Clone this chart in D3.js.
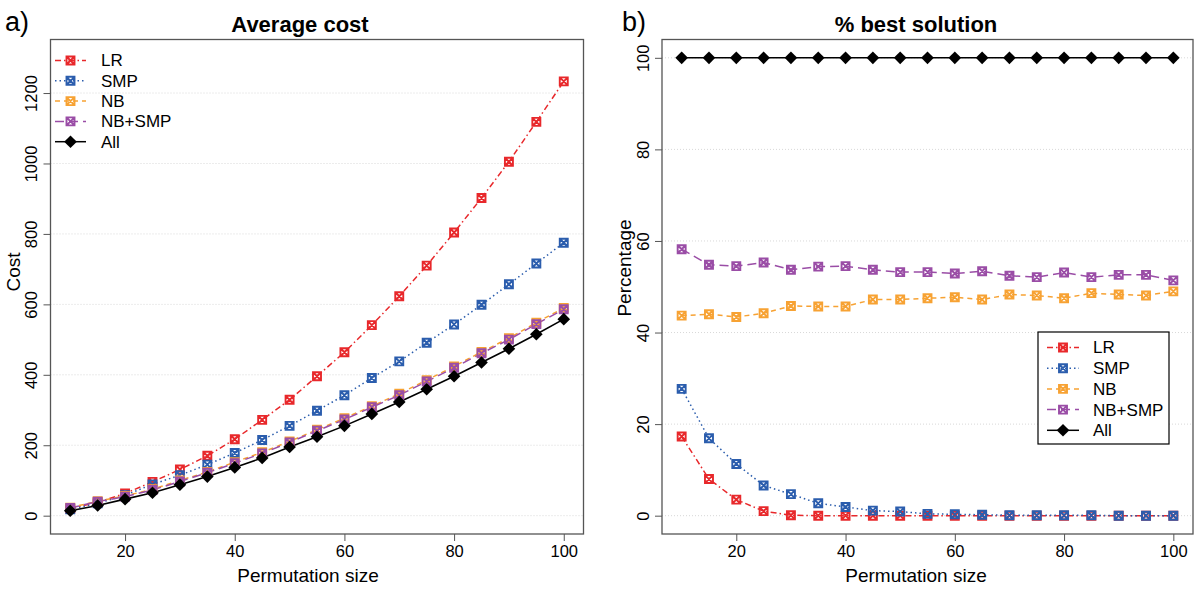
<!DOCTYPE html>
<html><head><meta charset="utf-8">
<script src="https://cdn.jsdelivr.net/npm/d3@7"></script>
<style>body{margin:0;background:#fff;} svg{display:block;font-family:"Liberation Sans",Arial,Helvetica,sans-serif;}</style>
</head><body><svg id="c" width="1200" height="595"></svg>
<script>
const sizes = [10,15,20,25,30,35,40,45,50,55,60,65,70,75,80,85,90,95,100];
const seriesNames = ["LR","SMP","NB","NB+SMP","All"];
// Panel a: average cost
const costLR    = [20,38,63,96,131,170,217,272,329,396,464,541,623,710,804,902,1005,1118,1233];
const costSMP   = [18,35,58,89,115,145,178,215,255,298,342,391,438,491,543,599,657,716,775];
const costNB    = [23,41,56,75,100,124,152,180,211,244,277,311,346,385,424,465,504,548,590];
const costNBSMP = [22,40,54,73,97,122,149,177,208,241,273,308,342,381,420,461,500,544,586];
const costAll   = [14,29,47,65,88,111,137,164,195,224,255,289,323,359,396,435,474,515,558];
// Panel b: % best solution
const pctLR     = [17.3,8.0,3.5,1.0,0.1,0,0,0,0,0,0,0,0,0,0,0,0,0,0];
const pctSMP    = [27.7,16.9,11.3,6.6,4.7,2.7,1.9,1.1,0.9,0.4,0.3,0.2,0.1,0.1,0.1,0.1,0,0,0];
const pctNB     = [43.7,44.0,43.4,44.2,45.8,45.7,45.7,47.2,47.2,47.5,47.7,47.2,48.3,48.1,47.5,48.6,48.3,48.1,49.0];
const pctNBSMP  = [58.2,54.8,54.5,55.3,53.7,54.4,54.5,53.7,53.2,53.2,52.9,53.4,52.4,52.1,53.1,52.1,52.6,52.6,51.4];
const pctAll    = [100,100,100,100,100,100,100,100,100,100,100,100,100,100,100,100,100,100,100];
const xTicks = [20,40,60,80,100];
const costTicks = [0,200,400,600,800,1000,1200];
const pctTicks = [0,20,40,60,80,100];

const colors = {"LR":"#e8282b","SMP":"#2b5dad","NB":"#f7a233","NB+SMP":"#9a4da6","All":"#000"};
const dashes = {"LR":"6,3,1.5,3","SMP":"1.5,3","NB":"5,4","NB+SMP":"9,5","All":null};

const svg = d3.select("#c");

function marker(g, name, x, y){
  if(name==="All"){
    g.append("path").attr("d", d3.symbol(d3.symbolSquare, 80)())
     .attr("transform",`translate(${x},${y}) rotate(45)`).attr("fill","#000");
  } else {
    const s=4, c=colors[name];
    g.append("path").attr("d",`M${x-s},${y-s}h${2*s}v${2*s}h${-2*s}Z M${x-s},${y-s}L${x+s},${y+s} M${x+s},${y-s}L${x-s},${y+s}`)
     .attr("fill","none").attr("stroke",c).attr("stroke-width",1.9);
  }
}

function panel(opt){
  const {x0,x1,y0,y1,ydom,yticks,data,title,titleX,tag,tagX,ylab,ylabX,labY,xlabX,legend} = opt;
  const x = d3.scaleLinear().domain([6.4,103.6]).range([x0,x1]);
  const y = d3.scaleLinear().domain(ydom).range([y1,y0]);
  const g = svg.append("g");
  // grid
  g.selectAll(".grid").data(yticks).join("line")
    .attr("x1",x0).attr("x2",x1).attr("y1",d=>y(d)).attr("y2",d=>y(d))
    .attr("stroke","#d8d8d8").attr("stroke-width",1).attr("stroke-dasharray","1,2");
  // axes
  const xa = g.append("g").attr("transform",`translate(0,${y1})`)
    .call(d3.axisBottom(x).tickValues(xTicks).tickSize(7).tickPadding(4).tickFormat(d3.format("d")));
  xa.select(".domain").remove();
  xa.selectAll("line").attr("stroke","#555");
  xa.selectAll("text").attr("font-size",16.5).attr("fill","#000");
  const ya = g.append("g").attr("transform",`translate(${x0},0)`)
    .call(d3.axisLeft(y).tickValues(yticks).tickSize(7).tickFormat(d3.format("d")));
  ya.select(".domain").remove();
  ya.selectAll("line").attr("stroke","#555");
  ya.selectAll("text").attr("font-size",16.5).attr("fill","#000")
    .attr("text-anchor","middle").attr("x",0).attr("dy",0)
    .attr("transform","translate(-13.5,0) rotate(-90)");
  // box
  g.append("rect").attr("x",x0).attr("y",y0).attr("width",x1-x0).attr("height",y1-y0)
    .attr("fill","none").attr("stroke","#555").attr("stroke-width",1.3);
  // lines
  const line = d3.line().x((d,i)=>x(sizes[i])).y(d=>y(d));
  seriesNames.forEach(n=>{
    g.append("path").attr("d",line(data[n])).attr("fill","none")
      .attr("stroke",colors[n]).attr("stroke-width",n==="All"?1.6:1.5)
      .attr("stroke-dasharray",dashes[n]);
  });
  seriesNames.forEach(n=>{
    data[n].forEach((v,i)=>marker(g,n,x(sizes[i]),y(v)));
  });
  // titles
  g.append("text").attr("x",titleX).attr("y",31.5).attr("text-anchor","middle")
    .attr("font-size",22).attr("font-weight","bold").text(title);
  g.append("text").attr("x",tagX).attr("y",31).attr("font-size",27).text(tag);
  g.append("text").attr("x",xlabX).attr("y",581.5).attr("text-anchor","middle")
    .attr("font-size",19).text("Permutation size");
  g.append("text").attr("transform",`translate(${ylabX},${labY}) rotate(-90)`)
    .attr("text-anchor","middle").attr("font-size",19).text(ylab);
  // legend
  const L = legend;
  if(L.box){
    g.append("rect").attr("x",L.bx0).attr("y",L.by0).attr("width",L.bx1-L.bx0).attr("height",L.by1-L.by0)
      .attr("fill","#fff").attr("stroke","#000").attr("stroke-width",1.2);
  }
  seriesNames.forEach((n,i)=>{
    const yy = L.y + i*L.dy;
    g.append("line").attr("x1",L.lx0).attr("x2",L.lx1).attr("y1",yy).attr("y2",yy)
      .attr("stroke",colors[n]).attr("stroke-width",1.5).attr("stroke-dasharray",dashes[n]);
    marker(g,n,(L.lx0+L.lx1)/2,yy);
    g.append("text").attr("x",L.tx).attr("y",yy).attr("dy","0.35em").attr("font-size",17).text(n);
  });
}

panel({x0:50.5,x1:583.5,y0:39.5,y1:534,ydom:[-52,1352],yticks:costTicks,
  data:{"LR":costLR,"SMP":costSMP,"NB":costNB,"NB+SMP":costNBSMP,"All":costAll},
  title:"Average cost",titleX:300,tag:"a)",tagX:5,ylab:"Cost",ylabX:20,labY:272,xlabX:308,
  legend:{box:false,y:60.5,dy:20.3,lx0:55,lx1:86,tx:101}});
panel({x0:662,x1:1193,y0:39.5,y1:534,ydom:[-4,104],yticks:pctTicks,
  data:{"LR":pctLR,"SMP":pctSMP,"NB":pctNB,"NB+SMP":pctNBSMP,"All":pctAll},
  title:"% best solution",titleX:916,tag:"b)",tagX:622,ylab:"Percentage",ylabX:631,labY:268,xlabX:916,
  legend:{box:true,bx0:1038,bx1:1169,by0:332,by1:444,y:347.5,dy:20.7,lx0:1047,lx1:1079,tx:1093}});
</script></body></html>
